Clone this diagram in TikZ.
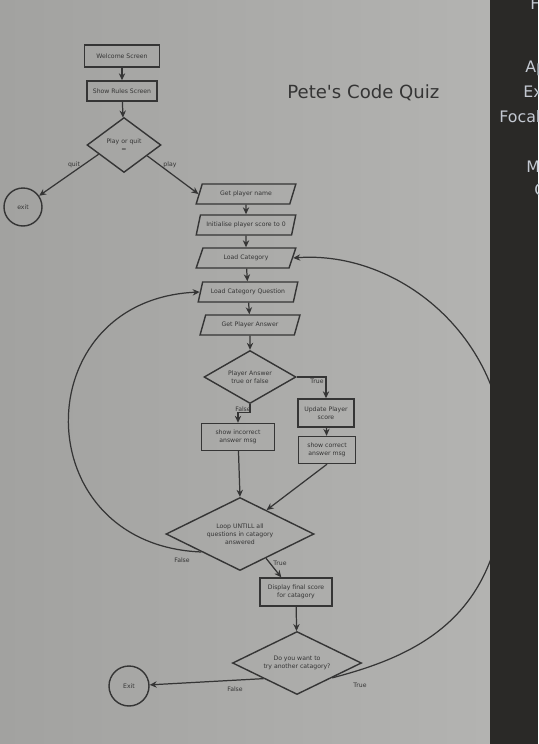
\documentclass[tikz,border=0pt]{standalone}
\usepackage{fontspec}
\setmainfont{DejaVu Sans}
\usetikzlibrary{shapes.geometric,arrows.meta}
\definecolor{paperl}{HTML}{A2A2A0}
\definecolor{paperr}{HTML}{B3B3B1}
\definecolor{ink}{HTML}{353535}
\definecolor{panel}{HTML}{2A2927}
\definecolor{paneltext}{HTML}{C3C8D1}

\begin{document}
\begin{tikzpicture}[x=0.02cm,y=-0.02cm]
		 %\draw[help lines] (0,0) grid (538,744);
		 \clip (0,0) rectangle (538,744);
		 \tikzset{
		 box/.style 	= {draw=ink, line width=0.8pt, rectangle, align=center, text=ink, inner sep=1pt, font=\fontsize{3.5}{4.4}\selectfont},
		 io/.style 		= {draw=ink, line width=0.8pt, trapezium, trapezium left angle=68, trapezium right angle=112, trapezium stretches=true, minimum width=2cm, minimum height=0.4cm, text=ink, inner sep=1pt, font=\fontsize{3.5}{4.4}\selectfont},
		 choice/.style 	= {draw=ink, line width=0.8pt, diamond, aspect=2, align=center, text=ink, inner sep=0pt, font=\fontsize{3.5}{4.4}\selectfont},
		 stop/.style 	= {draw=ink, line width=0.8pt, circle, text=ink, inner sep=0pt, font=\fontsize{3.5}{4.4}\selectfont},
		 lbl/.style 	= {text=ink, inner sep=0pt, font=\fontsize{3.5}{4.4}\selectfont},
		 flow/.style 	= {draw=ink, line width=0.7pt, -{Stealth[length=4pt,width=3.6pt]}},
		 side/.style 	= {text=paneltext, anchor=base west, inner sep=0pt, font=\fontsize{9}{10}\selectfont}}
		 
		 \shade[left color=paperl, right color=paperr] (0,0) rectangle (490,744);
		 
		 \node[anchor=base west, text=ink, inner sep=0pt, font=\fontsize{10.3}{12}\selectfont] (title) at (287,98) {Pete\textquotesingle s Code Quiz};
		 
		 \node[box, minimum width=1.5cm, minimum height=0.44cm] (welcome) at (122,56) {Welcome Screen};
		 \node[box, minimum width=1.4cm, minimum height=0.4cm] (rules) at (122,91) {Show Rules Screen};
		 \node[choice, aspect=1.3, minimum width=1.48cm, minimum height=1.1cm] (play) at (124,145) {Play or quit\\=};
		 \node[stop, minimum size=0.76cm] (exit) at (23,207) {exit};
		 
		 \node[io] (name) at (246,194) {Get player name};
		 \node[io] (init) at (246,225) {Initialise player score to 0};
		 \node[io] (cat) at (246,258) {Load Category};
		 \node[io] (question) at (248,292) {Load Category Question};
		 \node[io] (answer) at (250,325) {Get Player Answer};
		 
		 \node[choice, minimum width=1.84cm, minimum height=1.06cm] (check) at (250,377) {Player Answer\\true or false};
		 \node[box, minimum width=1.12cm, minimum height=0.56cm] (update) at (326,413) {Update Player\\score};
		 \node[box, minimum width=1.14cm, minimum height=0.54cm] (correct) at (327,450) {show correct\\answer msg};
		 \node[box, minimum width=1.46cm, minimum height=0.54cm] (incorrect) at (238,437) {show incorrect\\answer msg};
		 
		 \node[choice, minimum width=2.96cm, minimum height=1.46cm] (loop) at (240,534) {Loop UNTILL all\\questions in catagory\\answered};
		 \node[box, minimum width=1.44cm, minimum height=0.56cm] (final) at (296,592) {Display final score\\for catagory};
		 \node[choice, minimum width=2.58cm, minimum height=1.26cm] (again) at (297,663) {Do you want to\\try another catagory?};
		 \node[stop, minimum size=0.8cm] (exitb) at (129,686) {Exit};
		 
		 \node[lbl] (quitlbl) at (74,165) {quit};
		 \node[lbl] (playlbl) at (170,165) {play};
		 \node[lbl] (truea) at (317,381) {True};
		 \node[lbl] (falsea) at (243,409) {False};
		 \node[lbl] (falseb) at (182,560) {False};
		 \node[lbl] (trueb) at (280,563) {True};
		 \node[lbl] (falsec) at (235,689) {False};
		 \node[lbl] (truec) at (360,685) {True};
		 
		 \draw[flow] (welcome) -- (rules);
		 \draw[flow] (rules) -- (play);
		 \draw[flow] (play.200) -- (exit);
		 \draw[flow] (play.-25) -- (name.west);
		 \draw[flow] (name) -- (init);
		 \draw[flow] (init) -- (cat);
		 \draw[flow] (cat) -- (question);
		 \draw[flow] (question) -- (answer);
		 \draw[flow] (answer) -- (check);
		 \draw[flow] (check.east) -| (update.north);
		 \draw[flow] (check.south) -- ++(0,8) -| (incorrect.north);
		 \draw[flow] (update) -- (correct);
		 \draw[flow] (incorrect) -- (loop.north);
		 \draw[flow] (correct.south) -- (loop.42);
		 \draw[flow] (loop.205) .. controls (25,545) and (25,300) .. (question.west);
		 \draw[flow] (loop.-43) -- (final.135);
		 \draw[flow] (final) -- (again);
		 \draw[flow] (again.205) -- (exitb);
		 \draw[flow] (again.-23) .. controls (420,655) and (505,615) .. (505,470) .. controls (510,340) and (400,250) .. (cat.east);
		 
		 \fill[panel] (490,0) rectangle (538,744);
		 \node[side] (fr) at (530,9) {Fr};
		 \node[side] (ap) at (525,72) {Ap};
		 \node[side] (ex) at (523,97) {Ex};
		 \node[side] (focal) at (499,122) {Focal};
		 \node[side] (mo) at (526,172) {M};
		 \node[side] (co) at (534,195) {C};
		 \end{tikzpicture}
\end{document}
